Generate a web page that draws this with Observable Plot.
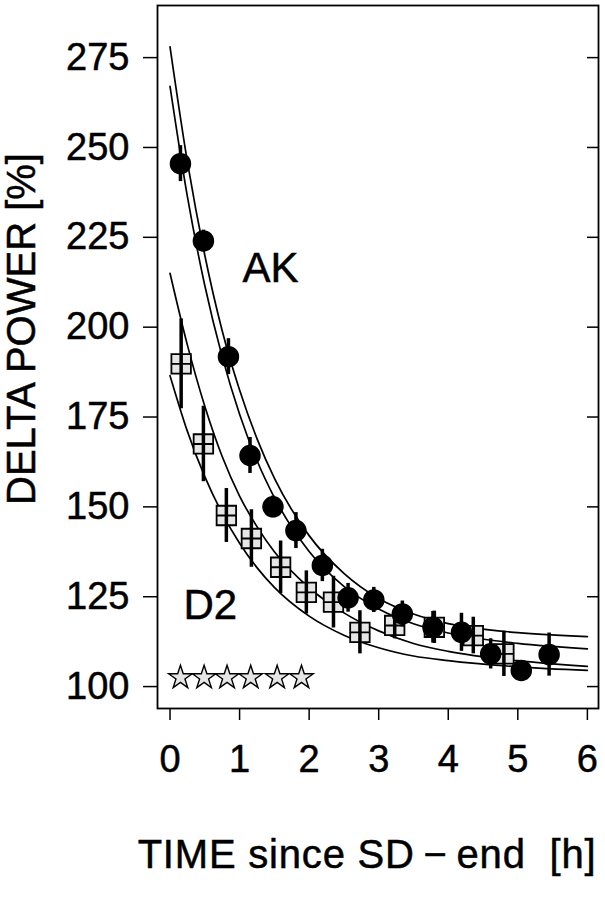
<!DOCTYPE html>
<html>
<head>
<meta charset="utf-8">
<script src="https://cdn.jsdelivr.net/npm/d3@7"></script>
<script src="https://cdn.jsdelivr.net/npm/@observablehq/plot@0.6"></script>
<style>
  html, body { margin: 0; padding: 0; background: white; }
  #chart svg text { stroke: black; stroke-width: 0.5px; }
</style>
</head>
<body>
<div id="chart"></div>
<script>
// AK group (filled circles)
const akTime  = [0.15, 0.48, 0.84, 1.15, 1.48, 1.81, 2.19, 2.56, 2.93, 3.34, 3.78, 4.19, 4.61, 5.05, 5.45];
const akValue = [245.5, 224, 191.8, 164.3, 150, 143.4, 133.7, 124.7, 124.1, 120.2, 116.5, 115.1, 109.1, 104.5, 108.9];
const akErr   = [5, 3, 5, 5, 3, 5, 4.5, 4, 3.5, 3.6, 4.4, 5.3, 4.2, 2.5, 6];

// D2 group (grey squares)
const d2Time  = [0.16, 0.48, 0.81, 1.17, 1.59, 1.96, 2.35, 2.73, 3.23, 3.80, 4.36, 4.80];
const d2Value = [189.8, 167.5, 147.6, 141.2, 133.2, 126.2, 123.5, 115.1, 117, 116.5, 114.2, 109.1];
const d2Err   = [12.5, 10.5, 7.5, 8, 7.3, 6, 7.2, 6, 3.7, 4.5, 5.1, 6.3];

// Fitted curves
const fitTime = [0, 0.25, 0.5, 0.75, 1, 1.25, 1.5, 2, 2.5, 3, 3.5, 4, 5, 6];
const fitAK1  = [278, 246, 220, 199, 182.5, 169, 158, 142, 131.5, 124.5, 120.2, 117.5, 115, 113.9];
const fitAK2  = [267, 236.3, 211.6, 191.8, 175.8, 162.9, 152.6, 137.6, 127.9, 121.6, 117.5, 114.9, 112, 110.5];
const fitD2a  = [215, 195, 178, 164, 153, 144.5, 137.5, 127.5, 120.5, 115.5, 112, 109.8, 107.2, 105.6];
const fitD2b  = [186.5, 171, 158.4, 148.2, 139.9, 133.1, 127.6, 119.6, 114.3, 110.8, 108.5, 107.2, 105.5, 104.5];

// Significance stars
const starTime  = [0.15, 0.49, 0.82, 1.16, 1.54, 1.89];
const starValue = [102.5, 102.5, 102.5, 102.5, 102.5, 102.5];

// Ticks and labels
const xTicks = [0, 1, 2, 3, 4, 5, 6];
const yTicks = [100, 125, 150, 175, 200, 225, 250, 275];
const groupLabels = [
  {x: 1.445, y: 216.3, text: "AK"},
  {x: 0.58, y: 122.5, text: "D2"}
];
const xLabel = "TIME since SD\u2009\u2212\u2009end\u00a0\u00a0[h]";
const yLabel = "DELTA POWER [%]";

const ak = akTime.map((t, i) => ({t, v: akValue[i], e: akErr[i]}));
const d2 = d2Time.map((t, i) => ({t, v: d2Value[i], e: d2Err[i]}));
const fits = [
  ["AK1", fitAK1], ["AK2", fitAK2], ["D2a", fitD2a], ["D2b", fitD2b]
].flatMap(([k, arr]) => fitTime.map((t, i) => ({k, t, v: arr[i]})));
const stars = starTime.map((t, i) => ({t, v: starValue[i]}));

const squareCross = {
  draw(ctx, size) {
    const w = Math.sqrt(size) / 2;
    ctx.moveTo(-w, -w); ctx.lineTo(w, -w); ctx.lineTo(w, w); ctx.lineTo(-w, w); ctx.closePath();
    ctx.moveTo(-w, 0); ctx.lineTo(w, 0);
  }
};

const chart = Plot.plot({
  width: 605,
  height: 900,
  marginLeft: 157,
  marginRight: 7,
  marginTop: 5,
  marginBottom: 192,
  x: {domain: [-0.18, 6.16]},
  y: {domain: [93.9, 289.5]},
  style: {fontFamily: "'Liberation Sans', Arial, sans-serif", fontSize: "38px", color: "black", background: "white"},
  marks: [
    Plot.frame({stroke: "black", strokeWidth: 1.8}),
    Plot.axisX({ticks: xTicks, tickSize: 12, tickPadding: 25, tickFormat: d => String(d), label: null, strokeWidth: 1.5}),
    Plot.axisY({ticks: yTicks, tickSize: 14, tickPadding: 14, tickFormat: d => String(d), label: null, strokeWidth: 1.5}),
    Plot.tickY(yTicks, {y: d => d, insetLeft: 430, stroke: "black", strokeWidth: 1.5}),
    Plot.line(fits, {x: "t", y: "v", z: "k", curve: "monotone-x", stroke: "black", strokeWidth: 1.7}),
    Plot.dot(d2, {x: "t", y: "v", symbol: squareCross, r: 11, fill: "#e6e6e6", stroke: "black", strokeWidth: 1.8}),
    Plot.ruleX(d2, {x: "t", y1: d => d.v - d.e, y2: d => d.v + d.e, stroke: "black", strokeWidth: 3.5}),
    Plot.ruleX(ak, {x: "t", y1: d => d.v - d.e, y2: d => d.v + d.e, stroke: "black", strokeWidth: 3.5}),
    Plot.dot(ak, {x: "t", y: "v", r: 10, fill: "black", stroke: "black"}),
    Plot.dot(stars, {x: "t", y: "v", symbol: "star", r: 7.4, fill: "#e6e6e6", stroke: "black", strokeWidth: 1.4}),
    Plot.text(groupLabels, {x: "x", y: "y", text: "text", fontSize: 42}),
    Plot.text([xLabel], {frameAnchor: "bottom", dx: -11, dy: 147, lineAnchor: "middle", textAnchor: "middle", fontSize: 40, text: d => d}),
    Plot.text([yLabel], {frameAnchor: "left", dx: -135, dy: -28, rotate: -90, lineAnchor: "middle", textAnchor: "middle", fontSize: 40, text: d => d})
  ]
});
d3.select(chart).selectAll("text")
  .filter(function() { return this.textContent.startsWith("TIME"); })
  .attr("letter-spacing", "0.8px");
document.getElementById("chart").appendChild(chart);
</script>
</body>
</html>
